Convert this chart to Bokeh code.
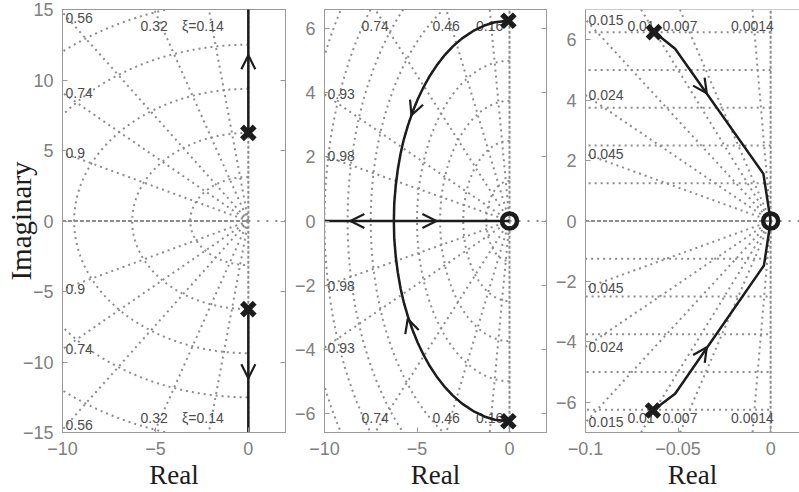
import numpy as np
from bokeh.plotting import figure
from bokeh.models import (Range1d, FixedTicker, LinearAxis, Arrow, OpenHead,
                          CustomJSTickFormatter, Span)
from bokeh.layouts import row
from bokeh.core.properties import value
from bokeh.embed import file_html
from bokeh.resources import INLINE

# ------------------------------------------------------------------ data
# Panel 1
p1_xlim = [-10, 2]
p1_ylim = [-15, 15]
p1_xticks = [-10, -5, 0]
p1_yticks = [-15, -10, -5, 0, 5, 10, 15]
p1_zeta = [0.14, 0.32, 0.56, 0.74, 0.9]
p1_zeta_labels = ["ξ=0.14", "0.32", "0.56", "0.74", "0.9"]
p1_wn = [3.125, 6.25, 9.375, 12.5, 15.625]
p1_pole_re = [0.0, 0.0]
p1_pole_im = [6.25, -6.25]
p1_up_re = [0.0, 0.0]
p1_up_im = [6.25, 16.0]
p1_dn_re = [0.0, 0.0]
p1_dn_im = [-6.25, -16.0]
# arrows: (x_from, y_from, x_tip, y_tip)
p1_arrows = [(0.0, 11.0, 0.0, 11.75), (0.0, -10.4, 0.0, -11.15)]

# Panel 2
p2_xlim = [-10, 2]
p2_ylim = [-6.6, 6.6]
p2_xticks = [-10, -5, 0]
p2_yticks = [-6, -4, -2, 0, 2, 4, 6]
p2_zeta = [0.16, 0.46, 0.74, 0.93, 0.98]
p2_zeta_labels = ["0.16", "0.46", "0.74", "0.93", "0.98"]
p2_wn = [1.25, 2.5, 3.75, 5.0, 6.25, 7.5, 8.75, 10.0, 11.25]
p2_pole_re = [-0.06, -0.06]
p2_pole_im = [6.25, -6.25]
p2_zero_re = [0.0]
p2_zero_im = [0.0]
p2_arc_re = [-0.06, -0.8, -1.36, -1.9, -2.56, -3.06, -3.54, -3.94, -4.34, -4.67,
             -4.96, -5.24, -5.48, -5.71, -5.89, -6.04, -6.15, -6.23, -6.25]
p2_arc_im = [6.25, 6.2, 6.1, 5.95, 5.7, 5.45, 5.15, 4.85, 4.5, 4.15,
             3.8, 3.4, 3.0, 2.55, 2.1, 1.6, 1.1, 0.55, 0.0]
p2_real_re = [-10.5, 0.0]
p2_real_im = [0.0, 0.0]
p2_arrows = [(-4.96, 3.8, -5.3, 3.3), (-5.2, -3.6, -5.5, -3.05),
             (-8.0, 0.0, -8.6, 0.0), (-4.5, 0.0, -3.95, 0.0)]

# Panel 3
p3_xlim = [-0.1, 0.01559]
p3_ylim = [-7, 7]
p3_xticks = [-0.1, -0.05, 0]
p3_yticks = [-6, -4, -2, 0, 2, 4, 6]
p3_zeta = [0.0014, 0.007, 0.01, 0.015, 0.024, 0.045]
p3_zeta_labels = ["0.0014", "0.007", "0.01", "0.015", "0.024", "0.045"]
p3_wn = [1.25, 2.5, 3.75, 5.0, 6.25]
p3_pole_re = [-0.063, -0.0636]
p3_pole_im = [6.25, -6.27]
p3_zero_re = [0.0]
p3_zero_im = [0.0]
p3_up_re = [-0.0627, -0.0516, -0.0039, 0.0]
p3_up_im = [6.25, 5.70, 1.56, 0.0]
p3_dn_re = [0.0, -0.0036, -0.0516, -0.0636]
p3_dn_im = [0.0, -1.47, -5.72, -6.27]
p3_arrows = [(-0.0400, 4.72, -0.0345, 4.23), (-0.0400, -4.68, -0.0345, -4.18)]

# ------------------------------------------------------------------ style
FRAME_H = 423
FIG_H = 492
TOP = 9
GRAY = "#999999"
TICK_GRAY = "#808080"
GRID_GRAY = "#8c8c8c"
LABEL_GRAY = "#4d4d4d"
INK = "#1c1c1c"
SANS = "Liberation Sans"
SERIF = "Liberation Serif"


def make_panel(xlim, ylim, xticks, yticks, width, bl, br, outline=True, ylabel=None):
    p = figure(width=width, height=FIG_H, x_range=Range1d(*xlim), y_range=Range1d(*ylim),
               output_backend="svg", toolbar_location=None,
               min_border_left=bl, min_border_right=br, min_border_top=TOP,
               min_border_bottom=FIG_H - TOP - FRAME_H,
               x_axis_label="Real", y_axis_label=ylabel)
    p.xgrid.visible = False
    p.ygrid.visible = False
    p.background_fill_color = "white"
    p.border_fill_color = "white"
    p.outline_line_color = GRAY if outline else None
    p.outline_line_width = 1
    p.xaxis.ticker = FixedTicker(ticks=xticks)
    p.yaxis.ticker = FixedTicker(ticks=yticks)
    for ax in (p.xaxis[0], p.yaxis[0]):
        ax.axis_line_color = GRAY
        ax.major_tick_line_color = GRAY
        ax.major_tick_in = 5
        ax.major_tick_out = 0
        ax.minor_tick_line_color = None
        ax.major_label_text_font = SANS
        ax.major_label_text_font_size = "18px"
        ax.major_label_text_color = TICK_GRAY
        ax.major_label_text_line_height = 1.0
        ax.axis_label_text_font = SERIF
        ax.axis_label_text_font_size = "27px"
        ax.axis_label_text_font_style = "normal"
        ax.axis_label_text_color = INK
        ax.axis_label_text_line_height = 0.9
    p.xaxis.major_label_standoff = 9
    p.xaxis.axis_label_standoff = 2
    p.yaxis.major_label_standoff = 9
    p.yaxis.axis_label_standoff = 0
    return p


def add_right_axis(p, yticks):
    ax = LinearAxis(ticker=FixedTicker(ticks=yticks),
                    formatter=CustomJSTickFormatter(code="return ''"),
                    major_label_standoff=0, axis_line_color=None,
                    major_tick_in=5, major_tick_out=0,
                    minor_tick_line_color=None, major_tick_line_color=GRAY)
    p.add_layout(ax, "right")


def add_sgrid(p, xlim, ylim, zeta, labels, wn):
    sy = FRAME_H / (ylim[1] - ylim[0])
    dots = dict(line_color=GRID_GRAY, line_width=2, line_dash="2 4")
    # damping rays
    for z in zeta:
        s = np.sqrt(1 - z * z)
        t = 1.05 * min(ylim[1] / s, -xlim[0] / z)
        for sign in (1, -1):
            p.line([0, -z * t], [0, sign * s * t], **dots)
    # natural-frequency semicircles
    th = np.linspace(np.pi / 2, 3 * np.pi / 2, 1441)
    for w in wn:
        p.line(w * np.cos(th), w * np.sin(th), **dots)
    # zeta = 0 and zeta = 1 lines, plus positive real axis
    p.line([0, 0], [ylim[0] * 1.1, ylim[1] * 1.1], line_color=GRID_GRAY,
           line_width=2, line_dash="3 2")
    p.line([xlim[0] * 1.1, 0], [0, 0], line_color=GRID_GRAY,
           line_width=2, line_dash="4 2")
    p.line([0, xlim[1] * 1.5], [0, 0], line_color=GRID_GRAY,
           line_width=2, line_dash="2 7")
    # labels
    top_x, top_t, top_off = [], [], []
    left_y, left_t = [], []
    for z, lab in zip(zeta, labels):
        s = np.sqrt(1 - z * z)
        xt = -ylim[1] * z / s
        if xt >= xlim[0]:
            top_x.append(xt)
            top_t.append(lab)
            top_off.append(-6 if lab.startswith("ξ") else 0)
        else:
            yl = -xlim[0] * s / z
            left_y.append(min(yl, ylim[1] - 8.0 / sy))
            left_t.append(lab)
    common = dict(text_font=value(SANS), text_font_size="14px", text_color=LABEL_GRAY)
    if top_x:
        p.text(x=top_x + top_x, y=[ylim[1]] * len(top_x) + [ylim[0]] * len(top_x),
               text=top_t + top_t, x_offset=top_off + top_off,
               y_offset=[16] * len(top_x) + [-15] * len(top_x),
               text_align="center", text_baseline="middle", **common)
    if left_y:
        p.text(x=[xlim[0]] * (2 * len(left_y)), y=left_y + [-v for v in left_y],
               text=left_t + left_t, x_offset=3, text_align="left",
               text_baseline="middle", **common)


def add_locus(p, branches, poles, zeros, arrows):
    for bx, by in branches:
        p.line(bx, by, line_color=INK, line_width=2.5)
    for (x0, y0, x1, y1) in arrows:
        p.add_layout(Arrow(end=OpenHead(size=14, line_width=2.2, line_color=INK),
                           x_start=x0, y_start=y0, x_end=x1, y_end=y1,
                           line_alpha=0))
    if poles[0]:
        p.scatter(poles[0], poles[1], marker="x", size=18, line_width=5.5,
                  line_color=INK)
    if zeros[0]:
        p.scatter(zeros[0], zeros[1], marker="circle", size=15, line_width=4.5,
                  line_color=INK, fill_color=None)


# Panel 1  (canvas 0..291, frame 62..285)
p1 = make_panel(p1_xlim, p1_ylim, p1_xticks, p1_yticks, 291, 62, 6, ylabel="Imaginary")
p1.yaxis.major_label_standoff = 9
p1.yaxis.axis_label_standoff = -17
p1.yaxis.axis_label_text_font_size = "29px"
add_right_axis(p1, p1_yticks)
add_sgrid(p1, p1_xlim, p1_ylim, p1_zeta, p1_zeta_labels, p1_wn)
add_locus(p1, [(p1_up_re, p1_up_im), (p1_dn_re, p1_dn_im)],
          (p1_pole_re, p1_pole_im), ([], []), p1_arrows)

# Panel 2  (canvas 291..552, frame 323..546)
p2 = make_panel(p2_xlim, p2_ylim, p2_xticks, p2_yticks, 261, 32, 6)
add_right_axis(p2, p2_yticks)
add_sgrid(p2, p2_xlim, p2_ylim, p2_zeta, p2_zeta_labels, p2_wn)
p2_arc_lo = [-v for v in p2_arc_im]
add_locus(p2, [(p2_arc_re, p2_arc_im), (p2_arc_re, p2_arc_lo), (p2_real_re, p2_real_im)],
          (p2_pole_re, p2_pole_im), (p2_zero_re, p2_zero_im), p2_arrows)

# Panel 3  (canvas 552..799, frame 584..799)
p3 = make_panel(p3_xlim, p3_ylim, p3_xticks, p3_yticks, 247, 32, 0, outline=False)
p3.add_layout(Span(location=p3_ylim[1], dimension="width", line_color=GRAY, line_width=1))
add_sgrid(p3, p3_xlim, p3_ylim, p3_zeta, p3_zeta_labels, p3_wn)
add_locus(p3, [(p3_up_re, p3_up_im), (p3_dn_re, p3_dn_im)],
          (p3_pole_re, p3_pole_im), (p3_zero_re, p3_zero_im), p3_arrows)

layout = row(p1, p2, p3, spacing=0)
open("out.html", "w").write(file_html(layout, INLINE))
